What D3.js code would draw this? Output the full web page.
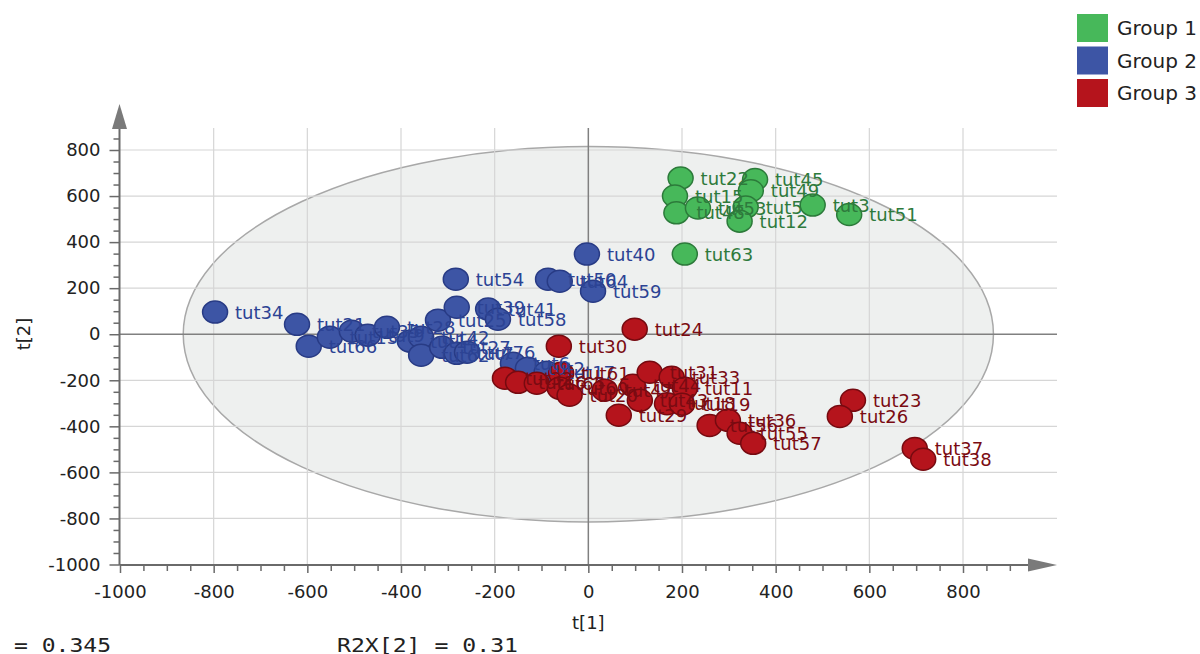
<!DOCTYPE html>
<html>
<head>
<meta charset="utf-8">
<script src="https://cdn.jsdelivr.net/npm/d3@7"></script>
<style>
body { margin: 0; background: #fff; }
svg { display: block; font-family: "DejaVu Sans", sans-serif; }
</style>
</head>
<body>
<svg id="chart" width="1200" height="654"></svg>
<script>
// score values t[1], t[2]
const group1Labels = ["tut22","tut45","tut15","tut49","tut48","tut53","tut5","tut12","tut3","tut51","tut63"];
const group1T1 = [197, 356, 185, 347, 188, 234, 336, 323, 479, 557, 206];
const group1T2 = [678, 672, 600, 623, 527, 548, 552, 491, 561, 520, 348];

const group2Labels = ["tut34","tut21","tut66","tut13","tut35","tut9","tut28","tut14","tut42","tut62","tut25","tut39","tut54","tut27","tut7","tut76","tut41","tut58","tut6","tut2","tut17","tut50","tut64","tut40","tut59"];
const group2T1 = [-797, -622, -597, -552, -505, -471, -430, -381, -357, -357, -321, -281, -283, -312, -281, -259, -214, -193, -161, -129, -89, -86, -61, -3, 10];
const group2T2 = [96, 43, -52, -13, 13, -4, 30, -30, -13, -91, 61, 117, 239, -57, -83, -78, 109, 65, -126, -148, -165, 239, 230, 348, 187];

const group3Labels = ["tut24","tut30","tut32","tut16","tut65","tut61","tut60","tut20","tut47","tut29","tut44","tut43","tut31","tut33","tut18","tut11","tut19","tut56","tut36","tut55","tut57","tut23","tut26","tut37","tut38"];
const group3T1 = [99, -63, -178, -150, -110, -58, -61, -40, 35, 65, 95, 110, 131, 178, 168, 206, 200, 259, 298, 323, 352, 565, 537, 697, 715];
const group3T2 = [22, -52, -191, -209, -213, -170, -235, -265, -243, -352, -222, -287, -165, -187, -302, -235, -304, -396, -374, -430, -474, -287, -357, -496, -543];

const groupNames = ["Group 1", "Group 2", "Group 3"];
const fillColors = ["#47b85a", "#3d55a5", "#b5141c"];
const strokeColors = ["#2c7a3a", "#283b85", "#760a10"];
const textColors = ["#2e7a3c", "#2c4394", "#7a0b12"];

const majorTicks = d3.range(-1000, 801, 200);
const ellipseRx = 865, ellipseRy = 815;
const r2x1Text = "R2X[1] = 0.345";
const r2x2Text = "R2X[2] = 0.31";

const svg = d3.select("#chart");

const x = d3.scaleLinear().domain([-1000, 800]).range([120, 963]);
const y = d3.scaleLinear().domain([-1000, 800]).range([564.5, 150]);

const axisX = 119.5, axisY = 565;
const plotTop = 128, plotRight = 1057;

// Hotelling ellipse
svg.append("ellipse")
    .attr("cx", x(0)).attr("cy", y(0))
    .attr("rx", x(ellipseRx) - x(0))
    .attr("ry", y(0) - y(ellipseRy))
    .attr("fill", "#eef0ef")
    .attr("stroke", "#a8a8a8")
    .attr("stroke-width", 1.5);

// grid
const grid = svg.append("g").attr("stroke", "#d6d6d6").attr("stroke-width", 1.2);
grid.selectAll(".gy").data(majorTicks.filter(d => d !== 0 && d !== -1000)).enter()
    .append("line")
    .attr("x1", axisX).attr("x2", plotRight)
    .attr("y1", d => y(d)).attr("y2", d => y(d));
grid.selectAll(".gx").data(majorTicks.filter(d => d !== 0 && d !== -1000)).enter()
    .append("line")
    .attr("y1", plotTop).attr("y2", axisY)
    .attr("x1", d => x(d)).attr("x2", d => x(d));

// zero lines
svg.append("line").attr("x1", axisX).attr("x2", plotRight).attr("y1", y(0)).attr("y2", y(0))
    .attr("stroke", "#808080").attr("stroke-width", 1.5);
svg.append("line").attr("x1", x(0)).attr("x2", x(0)).attr("y1", plotTop).attr("y2", axisY)
    .attr("stroke", "#808080").attr("stroke-width", 1.5);

// axes
const fmt = d => String(d);
const minorY = d3.range(-950, 851, 50).filter(d => d % 200 !== 0);
const minorX = d3.range(-950, 901, 50).filter(d => d % 200 !== 0);

svg.append("g").attr("transform", `translate(${axisX},0)`)
    .call(d3.axisLeft(y).tickValues(majorTicks).tickSize(10).tickPadding(9).tickFormat(fmt));
svg.append("g").attr("transform", `translate(${axisX},0)`)
    .call(d3.axisLeft(y).tickValues(minorY).tickSize(6).tickFormat(""));

svg.append("g").attr("transform", `translate(0,${axisY})`)
    .call(d3.axisBottom(x).tickValues(majorTicks).tickSize(8).tickPadding(12).tickFormat(fmt));
svg.append("g").attr("transform", `translate(0,${axisY})`)
    .call(d3.axisBottom(x).tickValues(minorX).tickSize(6).tickFormat(""));

svg.selectAll(".domain").remove();
svg.selectAll(".tick line").attr("stroke", "#6a6a6a").attr("stroke-width", 1.5);
svg.selectAll(".tick text").attr("fill", "#222").style("font-size", "18px")
    .style("font-family", "'DejaVu Sans', sans-serif");

// axis lines with arrows
svg.append("line").attr("x1", axisX).attr("x2", axisX).attr("y1", axisY).attr("y2", 120)
    .attr("stroke", "#6a6a6a").attr("stroke-width", 2);
svg.append("path").attr("d", `M${axisX},104 L${axisX - 7.5},129 L${axisX + 7.5},129 Z`).attr("fill", "#7a7a7a");
svg.append("line").attr("x1", axisX).attr("x2", 1035).attr("y1", axisY).attr("y2", axisY)
    .attr("stroke", "#6a6a6a").attr("stroke-width", 2);
svg.append("path").attr("d", `M1057,${axisY} L1028,${axisY - 6.5} L1028,${axisY + 6.5} Z`).attr("fill", "#7a7a7a");

// axis titles
svg.append("text").attr("transform", "translate(30,334) rotate(-90)")
    .attr("text-anchor", "middle").attr("fill", "#222").style("font-size", "18px").text("t[2]");
svg.append("text").attr("x", x(0)).attr("y", 629)
    .attr("text-anchor", "middle").attr("fill", "#222").style("font-size", "18px").text("t[1]");

// R2X notes
svg.append("text").attr("x", -83).attr("y", 652)
    .attr("textLength", 194).attr("lengthAdjust", "spacingAndGlyphs")
    .attr("fill", "#222").style("font-family", "'DejaVu Sans Mono', monospace").style("font-size", "19px")
    .text(r2x1Text);
svg.append("text").attr("x", 337).attr("y", 652)
    .attr("textLength", 181).attr("lengthAdjust", "spacingAndGlyphs")
    .attr("fill", "#222").style("font-family", "'DejaVu Sans Mono', monospace").style("font-size", "19px")
    .text(r2x2Text);

// points
const groups = [
    { labels: group1Labels, t1: group1T1, t2: group1T2 },
    { labels: group2Labels, t1: group2T1, t2: group2T2 },
    { labels: group3Labels, t1: group3T1, t2: group3T2 }
];
const points = [];
groups.forEach((g, gi) => {
    g.labels.forEach((name, i) => points.push({ name: name, t1: g.t1[i], t2: g.t2[i], g: gi }));
});

svg.append("g").selectAll("ellipse").data(points).enter()
    .append("ellipse")
    .attr("cx", d => x(d.t1)).attr("cy", d => y(d.t2))
    .attr("rx", 12.5).attr("ry", 11)
    .attr("fill", d => fillColors[d.g])
    .attr("stroke", d => strokeColors[d.g])
    .attr("stroke-width", 1.5);

svg.append("g").selectAll("text").data(points).enter()
    .append("text")
    .attr("x", d => x(d.t1) + 20).attr("y", d => y(d.t2))
    .attr("dy", "0.36em")
    .attr("fill", d => textColors[d.g])
    .style("font-size", "18px")
    .text(d => d.name);

// legend
const legend = svg.append("g").selectAll("g").data(groupNames).enter()
    .append("g").attr("transform", (d, i) => `translate(1077,${14 + i * 32.5})`);
legend.append("rect").attr("width", 31).attr("height", 28).attr("fill", (d, i) => fillColors[i]);
legend.append("text").attr("x", 40).attr("y", 21).attr("fill", "#222")
    .style("font-size", "20px").text(d => d);
</script>
</body>
</html>
